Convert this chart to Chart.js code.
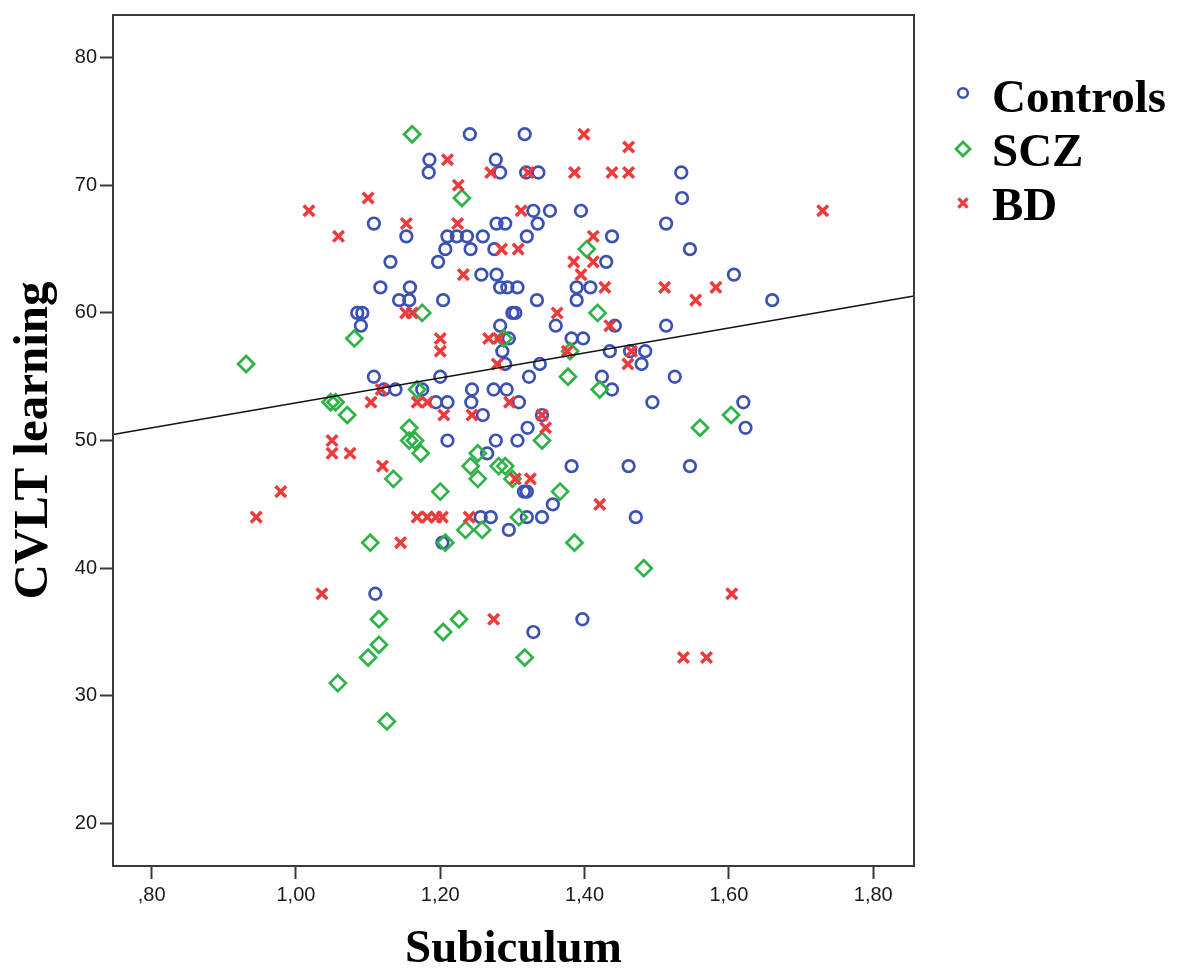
<!DOCTYPE html>
<html>
<head>
<meta charset="utf-8">
<title>CVLT learning vs Subiculum</title>
<script src="https://cdn.jsdelivr.net/npm/chart.js@4/dist/chart.umd.min.js"></script>
<style>
  html, body { margin: 0; padding: 0; background: #fff; }
  #wrap { width: 1177px; height: 974px; }
</style>
</head>
<body>
<div id="wrap"><canvas id="chart" width="1177" height="974"></canvas></div>
<script>
const groupNames = ["Controls", "SCZ", "BD"];
const groupColors = ["#3b52b4", "#2eb347", "#ee3a3a"];

// [subiculum, cvlt learning]
const controls = [
  [1.185, 72], [1.184, 71], [1.108, 67], [1.153, 66], [1.131, 64], [1.117, 62], [1.158, 62],
  [1.143, 61], [1.157, 61], [1.085, 60], [1.092, 60], [1.09, 59],
  [1.241, 74], [1.317, 74], [1.277, 72], [1.283, 71], [1.319, 71], [1.336, 71], [1.329, 68],
  [1.352, 68], [1.395, 68], [1.278, 67], [1.29, 67], [1.335, 67], [1.21, 66], [1.223, 66],
  [1.237, 66], [1.259, 66], [1.32, 66], [1.438, 66], [1.207, 65], [1.242, 65], [1.275, 65],
  [1.197, 64], [1.43, 64], [1.257, 63], [1.278, 63], [1.283, 62], [1.293, 62], [1.307, 62],
  [1.389, 62], [1.408, 62], [1.204, 61], [1.334, 61], [1.389, 61], [1.3, 60], [1.304, 60],
  [1.283, 59], [1.36, 59], [1.442, 59],
  [1.534, 71], [1.535, 69], [1.513, 67], [1.546, 65], [1.607, 63], [1.66, 61], [1.513, 59],
  [1.108, 55], [1.122, 54], [1.138, 54], [1.175, 54],
  [1.295, 58], [1.286, 57], [1.382, 58], [1.398, 58], [1.435, 57], [1.29, 56], [1.338, 56],
  [1.2, 55], [1.323, 55], [1.424, 55], [1.244, 54], [1.274, 54], [1.292, 54], [1.438, 54],
  [1.194, 53], [1.21, 53], [1.243, 53], [1.309, 53], [1.259, 52], [1.341, 52], [1.321, 51],
  [1.21, 50], [1.277, 50], [1.307, 50], [1.265, 49], [1.382, 48], [1.461, 48], [1.316, 46],
  [1.32, 46], [1.356, 45], [1.256, 44], [1.27, 44], [1.32, 44], [1.341, 44], [1.295, 43],
  [1.463, 57], [1.484, 57], [1.479, 56], [1.525, 55], [1.494, 53], [1.62, 53], [1.623, 51],
  [1.546, 48], [1.471, 44],
  [1.11, 38], [1.203, 42], [1.329, 35], [1.397, 36],
];

const scz = [
  [1.161, 74], [1.23, 69], [1.403, 65], [1.175, 60], [1.418, 60], [1.081, 58], [0.931, 56],
  [1.168, 54], [1.048, 53], [1.055, 53], [1.071, 52], [1.157, 51], [1.157, 50], [1.165, 50],
  [1.173, 49], [1.135, 47], [1.288, 58], [1.38, 57], [1.377, 55], [1.421, 54], [1.341, 50],
  [1.252, 49], [1.242, 48], [1.281, 48], [1.29, 48], [1.3, 47], [1.252, 47], [1.2, 46],
  [1.366, 46], [1.309, 44], [1.235, 43], [1.258, 43], [1.207, 42], [1.386, 42], [1.603, 52],
  [1.56, 51], [1.103, 42], [1.115, 36], [1.115, 34], [1.1, 33], [1.058, 31], [1.126, 28],
  [1.204, 35], [1.226, 36], [1.317, 33], [1.482, 40],
];

const bd = [
  [1.1, 69], [1.018, 68], [1.059, 66], [1.153, 67], [1.152, 60], [1.161, 60],
  [1.399, 74], [1.461, 73], [1.21, 72], [1.27, 71], [1.322, 71], [1.386, 71], [1.438, 71],
  [1.461, 71], [1.225, 70], [1.312, 68], [1.224, 67], [1.285, 65], [1.308, 65], [1.412, 66],
  [1.385, 64], [1.412, 64], [1.395, 63], [1.232, 63], [1.428, 62], [1.362, 60], [1.435, 59],
  [1.73, 68], [1.511, 62], [1.554, 61], [1.582, 62],
  [1.118, 54], [1.168, 53], [1.182, 53], [1.104, 53], [1.05, 50], [1.05, 49], [1.075, 49],
  [1.12, 48], [0.979, 46], [0.945, 44], [1.168, 44], [1.182, 44],
  [1.2, 58], [1.2, 57], [1.267, 58], [1.281, 58], [1.376, 57], [1.46, 56], [1.279, 56],
  [1.296, 53], [1.205, 52], [1.244, 52], [1.341, 52], [1.346, 51], [1.304, 47], [1.325, 47],
  [1.421, 45], [1.194, 44], [1.203, 44], [1.24, 44], [1.465, 57],
  [1.145, 42], [1.036, 38], [1.274, 36], [1.604, 38], [1.537, 33], [1.569, 33],
];

const xTicks = [0.8, 1.0, 1.2, 1.4, 1.6, 1.8];
const xTickLabels = [",80", "1,00", "1,20", "1,40", "1,60", "1,80"];
const yTicks = [20, 30, 40, 50, 60, 70, 80];

const xMin = 0.7465;
const xMax = 1.8565;
const yMin = 16.67;
const yMax = 83.34;

// fit line, total sample
const fitIntercept = 43.17;
const fitSlope = 9.78;

const axisColor = "#3a3a3a";
const titleFont = { family: "'Liberation Serif', 'Times New Roman', serif", size: 47, weight: "bold", lineHeight: 1 };
const tickFont = { family: "'Liberation Sans', Arial, sans-serif", size: 20 };

function toPoints(pairs) {
  return pairs.map(([x, y]) => ({ x, y }));
}

function drawMarker(ctx, style, x, y, r, color, width) {
  ctx.save();
  ctx.strokeStyle = color;
  ctx.lineWidth = width;
  ctx.beginPath();
  if (style === "circle") {
    ctx.arc(x, y, r, 0, Math.PI * 2);
  } else if (style === "rectRot") {
    ctx.moveTo(x, y - r);
    ctx.lineTo(x + r, y);
    ctx.lineTo(x, y + r);
    ctx.lineTo(x - r, y);
    ctx.closePath();
  } else {
    const d = r * Math.SQRT1_2;
    ctx.moveTo(x - d, y - d);
    ctx.lineTo(x + d, y + d);
    ctx.moveTo(x + d, y - d);
    ctx.lineTo(x - d, y + d);
  }
  ctx.stroke();
  ctx.restore();
}

const framePlugin = {
  id: "frame",
  afterDraw(chart) {
    const { ctx, chartArea } = chart;
    ctx.save();
    ctx.strokeStyle = axisColor;
    ctx.lineWidth = 2;
    ctx.strokeRect(chartArea.left, chartArea.top, chartArea.right - chartArea.left, chartArea.bottom - chartArea.top);
    ctx.restore();
  },
};

const legendRows = [
  { style: "circle", r: 4.8, width: 2.6, markerY: 93, textY: 112 },
  { style: "rectRot", r: 7, width: 2.8, markerY: 149, textY: 166 },
  { style: "crossRot", r: 6.5, width: 3.2, markerY: 203, textY: 220 },
];

const legendPlugin = {
  id: "groupLegend",
  afterDraw(chart) {
    const ctx = chart.ctx;
    ctx.save();
    ctx.font = "bold 47px 'Liberation Serif', 'Times New Roman', serif";
    ctx.textBaseline = "alphabetic";
    ctx.textAlign = "left";
    ctx.fillStyle = "#000";
    legendRows.forEach((row, i) => {
      drawMarker(ctx, row.style, 963, row.markerY, row.r, groupColors[i], row.width);
      ctx.fillText(groupNames[i], 992, row.textY);
    });
    ctx.restore();
  },
};

const scatterSet = (label, pairs, color, style, radius, width, order) => ({
  type: "scatter",
  label,
  data: toPoints(pairs),
  pointStyle: style,
  pointRadius: radius,
  pointHoverRadius: radius,
  pointBorderWidth: width,
  borderColor: color,
  backgroundColor: "rgba(0,0,0,0)",
  order,
});

new Chart(document.querySelector("#chart"), {
  data: {
    datasets: [
      {
        type: "line",
        label: "Fit",
        data: [
          { x: xMin, y: fitIntercept + fitSlope * xMin },
          { x: xMax, y: fitIntercept + fitSlope * xMax },
        ],
        borderColor: "#111",
        borderWidth: 1.5,
        pointRadius: 0,
        fill: false,
        order: 0,
      },
      scatterSet(groupNames[0], controls, groupColors[0], "circle", 5.8, 2.7, 3),
      scatterSet(groupNames[1], scz, groupColors[1], "rectRot", 8, 2.7, 2),
      scatterSet(groupNames[2], bd, groupColors[2], "crossRot", 7.5, 3.5, 1),
    ],
  },
  options: {
    responsive: false,
    animation: false,
    devicePixelRatio: 1,
    layout: { padding: { top: 12, right: 263, bottom: 0, left: 0 } },
    plugins: {
      legend: { display: false },
      tooltip: { enabled: false },
    },
    scales: {
      x: {
        type: "linear",
        min: xMin,
        max: xMax,
        afterBuildTicks: (scale) => { scale.ticks = xTicks.map((value) => ({ value })); },
        afterFit: (scale) => { scale.height = 108; },
        ticks: {
          autoSkip: false,
          maxRotation: 0,
          padding: 4,
          color: "#1a1a1a",
          font: tickFont,
          callback: (value, index) => xTickLabels[index],
        },
        grid: { drawOnChartArea: false, drawTicks: true, tickLength: 13, tickWidth: 2, tickColor: axisColor, color: axisColor },
        border: { display: true, color: axisColor, width: 2 },
        title: { display: true, text: "Subiculum", color: "#000", font: titleFont, padding: { top: 0, bottom: 1 } },
      },
      y: {
        type: "linear",
        min: yMin,
        max: yMax,
        afterBuildTicks: (scale) => { scale.ticks = yTicks.map((value) => ({ value })); },
        afterFit: (scale) => { scale.width = 113; },
        ticks: {
          autoSkip: false,
          padding: 3,
          color: "#1a1a1a",
          font: tickFont,
          callback: (value) => String(value),
        },
        grid: { drawOnChartArea: false, drawTicks: true, tickLength: 13, tickWidth: 2, tickColor: axisColor, color: axisColor },
        border: { display: true, color: axisColor, width: 2 },
        title: { display: true, text: "CVLT learning", color: "#000", font: { ...titleFont, size: 49 }, padding: { top: 10, bottom: 0 } },
      },
    },
  },
  plugins: [framePlugin, legendPlugin],
});
</script>
</body>
</html>
